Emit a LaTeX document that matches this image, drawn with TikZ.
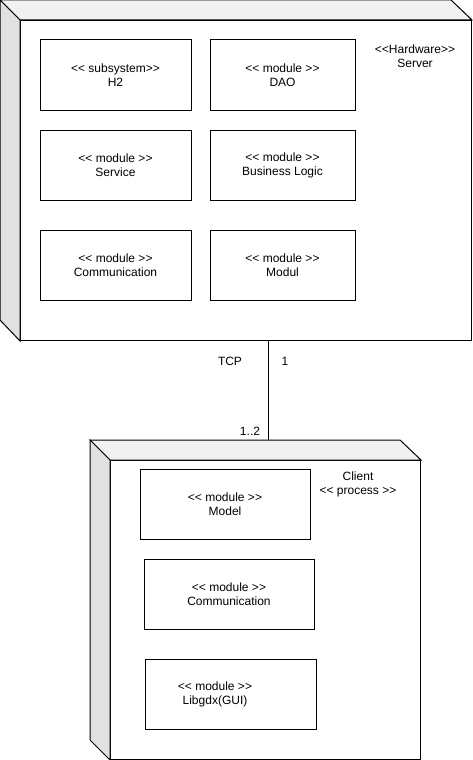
\documentclass[tikz,border=0pt]{standalone}
\usepackage{fontspec}
\setmainfont{Liberation Sans}[Ligatures=TeXOff]
\usepackage{tikz}
\usetikzlibrary{positioning,calc}
\definecolor{boxtop}{RGB}{241,241,241}
\definecolor{boxside}{RGB}{225,225,225}

\begin{document}
\begin{tikzpicture}[
  x=1pt, y=-1pt,
  every node/.style={font=\fontsize{12}{14}\selectfont},
  front/.style={draw=black, fill=white, line width=1pt, inner sep=0pt, anchor=north west},
  comp/.style={draw=black, fill=white, line width=1pt, minimum height=70pt, align=center, inner sep=0pt},
  face/.style={draw=black, line width=1pt, line join=miter},
  wire/.style={draw=black, line width=1pt},
  tag/.style={align=center, inner sep=0pt}
]
  \useasboundingbox (0,0) rectangle (472,760);

  % Server node (3D box)
  \node[front, minimum width=451pt, minimum height=320pt] (srv) at (20,20) {};
  \filldraw[face, fill=boxtop]  (0,0) -- (451,0) -- (srv.north east) -- (srv.north west) -- cycle;
  \filldraw[face, fill=boxside] (0,0) -- (srv.north west) -- (srv.south west) -- (0,320) -- cycle;
  \node[tag] (srvlbl) at (415,56) {<<Hardware>>\\Server};

  \node[comp, minimum width=151pt] (h2)   at (115.5,75)  {<< subsystem>>\\H2};
  \node[comp, minimum width=145pt] (dao)  at (282.5,75)  {<< module >>\\DAO};
  \node[comp, minimum width=151pt] (serv) at (115.5,165) {<< module >>\\Service};
  \node[comp, minimum width=145pt] (biz)  at (282.5,165) {<< module >>\\Business Logic};
  \node[comp, minimum width=151pt] (scom) at (115.5,265) {<< module >>\\Communication};
  \node[comp, minimum width=145pt] (mod)  at (282.5,265) {<< module >>\\Modul};

  % Client node (3D box)
  \node[front, minimum width=310pt, minimum height=299pt] (cli) at (110,460) {};
  \filldraw[face, fill=boxtop]  (90,440) -- (400,440) -- (cli.north east) -- (cli.north west) -- cycle;
  \filldraw[face, fill=boxside] (90,440) -- (cli.north west) -- (cli.south west) -- (90,740) -- cycle;
  \node[tag] (clilbl) at (358,484) {Client\\<< process >>};

  \node[comp, minimum width=170pt] (model) at (225,504)   {<< module >>\\Model};
  \node[comp, minimum width=170pt] (ccom)  at (229,594)   {<< module >>\\Communication};
  \node[comp, minimum width=171pt] (gui)   at (230.5,694) {};
  \node[tag] (guilbl) at ([xshift=-15.5pt]gui.center) {<< module >>\\Libgdx(GUI)};

  % TCP link
  \coordinate (link) at (268,440);
  \draw[wire] (srv.south -| link) -- (link);
  \node[tag] (tcp)  at (230,361) {TCP};
  \node[tag] (one)  at (285,361) {1};
  \node[tag] (many) at (250,431) {1..2};
\end{tikzpicture}
\end{document}
